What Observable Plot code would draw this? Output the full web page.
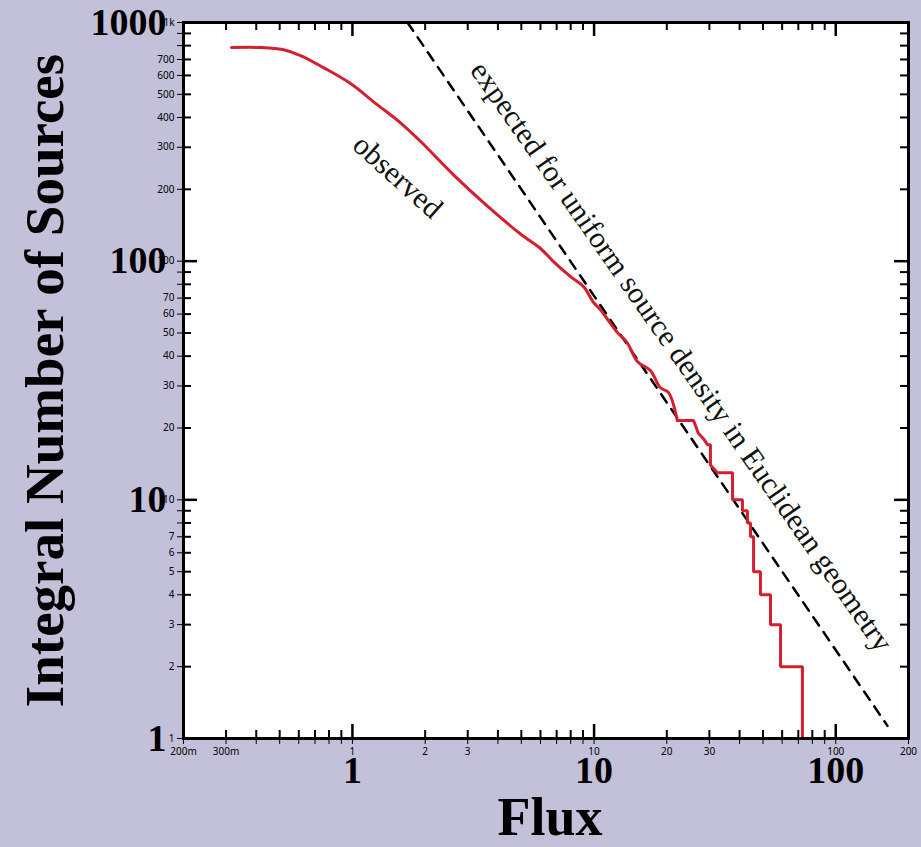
<!DOCTYPE html>
<html><head><meta charset="utf-8">
<script src="https://cdn.jsdelivr.net/npm/d3@7"></script>
<script src="https://cdn.jsdelivr.net/npm/@observablehq/plot@0.6"></script>
<style>
html,body{margin:0;padding:0;background:#c3c0da;}
#chart{position:relative;width:921px;height:847px;}
#chart svg{display:block;}
#chart svg.overlay{position:absolute;left:0;top:0;}
</style></head><body><div id="chart"></div>
<script>
// Observed integral source counts N(>S) (outline vertices)
const observedFlux = [0.316, 0.425, 0.514, 0.610, 0.759, 0.982, 1.258, 1.581, 1.912, 2.62, 3.62, 4.96, 6.00, 6.79, 7.99, 9.04, 9.95, 10.6, 12.5, 13.7, 15.1, 17.1, 18.8, 20.3, 22.1, 25.8, 27.0, 28.4, 29.5, 30.3, 30.3, 32.4, 37.4, 37.4, 41.1, 41.1, 43.1, 43.1, 44.4, 44.4, 45.7, 45.7, 48.8, 48.8, 53.7, 53.7, 59.1, 59.1, 72.8, 72.8];
const observedCount = [785, 785, 770, 727, 647, 555, 455, 380, 318, 230, 170, 130, 113, 99.6, 86.2, 78.3, 67.1, 62.7, 50.2, 45.6, 38.0, 34.8, 29.5, 28.2, 21.5, 21.5, 19, 18, 17, 17, 14, 13, 13, 10, 10, 9, 9, 8, 8, 7, 7, 5, 5, 4, 4, 3, 3, 2, 2, 1];
const smoothEnd = 25; // vertices before this index form the smooth part of the curve

// Expected for uniform density in Euclidean geometry (N ∝ S^-1.5), endpoints
const euclidFlux = [1.69, 163.7];
const euclidCount = [1000, 1.13];

// Ticks
const xMajorTicks = [1, 10, 100];
const xMinorTicks = [0.3, 0.4, 0.5, 0.6, 0.7, 0.8, 0.9, 2, 3, 4, 5, 6, 7, 8, 9, 20, 30, 40, 50, 60, 70, 80, 90];
const yMajorTicks = [10, 100];
const yMinorTicks = [2, 3, 4, 5, 6, 7, 8, 9, 20, 30, 40, 50, 60, 70, 80, 90, 200, 300, 400, 500, 600, 700, 800, 900];
const xTickLabels = [1, 10, 100];
const yTickLabels = [1, 10, 100, 1000];

// Annotations
const noteText = ["observed", "expected for uniform source density in Euclidean geometry"];
const noteFlux = [1.54, 23.0];
const noteCount = [226, 39.8];
const noteAngle = [42, 55];

const xTitle = "Flux";
const yTitle = "Integral Number of Sources";

const xDomain = [0.2, 200];
const yDomain = [1, 1000];

const observed = observedFlux.map((f, i) => ({flux: f, count: observedCount[i]}));
const euclid = euclidFlux.map((f, i) => ({flux: f, count: euclidCount[i]}));
const notes = noteText.map((t, i) => ({text: t, flux: noteFlux[i], count: noteCount[i], angle: noteAngle[i]}));

const W = 921, H = 847, mL = 183, mR = 13, mT = 22, mB = 109;
const innerW = W - mL - mR, innerH = H - mT - mB;
const major = 14, minor = 8;
const font = "'Liberation Serif', 'DejaVu Serif', serif";
const ink = "black";

const base = {
  width: W, height: H,
  marginLeft: mL, marginRight: mR, marginTop: mT, marginBottom: mB,
  x: {type: "log", domain: xDomain},
  y: {type: "log", domain: yDomain}
};

// Layer 1: plot area, data, labels
const chart = Plot.plot({
  ...base,
  style: {background: "#c3c0da", fontFamily: font, color: "black", overflow: "visible"},
  marks: [
    Plot.frame({fill: "white", stroke: null}),
    Plot.line(euclid, {x: "flux", y: "count", stroke: ink, strokeWidth: 2.5, strokeDasharray: "10,8"}),
    Plot.line(observed.slice(0, smoothEnd), {x: "flux", y: "count", stroke: "#d2202f", strokeWidth: 3, curve: "catmull-rom"}),
    Plot.line(observed.slice(smoothEnd - 1), {x: "flux", y: "count", stroke: "#d2202f", strokeWidth: 3, strokeLinejoin: "miter"}),
    Plot.axisX(xTickLabels, {anchor: "bottom", tickSize: 0, tickPadding: 18, fontSize: 38, fontWeight: "bold", tickFormat: d => String(d), label: null}),
    Plot.axisY(yTickLabels, {anchor: "left", tickSize: 0, tickPadding: 17, fontSize: 38, fontWeight: "bold", tickFormat: d => String(d), label: null}),
    Plot.text(notes, {x: "flux", y: "count", text: "text", rotate: "angle", fontSize: 30, fill: "#111", textAnchor: "middle", lineAnchor: "middle"}),
    Plot.text([yTitle], {text: d => d, frameAnchor: "left", dx: -138, rotate: -90, fontSize: 55, fontWeight: "bold", textAnchor: "middle", lineAnchor: "middle"}),
    Plot.text([xTitle], {text: d => d, frameAnchor: "bottom", dx: 4, dy: 79, fontSize: 54, fontWeight: "bold", textAnchor: "middle", lineAnchor: "middle"})
  ]
});

// Layer 2: inward ticks on all four sides and the frame, same scales
const frameLayer = Plot.plot({
  ...base,
  style: {background: "transparent", color: "black", overflow: "visible"},
  marks: [
    Plot.ruleX(xMinorTicks, {insetTop: innerH - minor, strokeWidth: 2}),
    Plot.ruleX(xMinorTicks, {insetBottom: innerH - minor, strokeWidth: 2}),
    Plot.ruleX(xMajorTicks, {insetTop: innerH - major, strokeWidth: 2.5}),
    Plot.ruleX(xMajorTicks, {insetBottom: innerH - major, strokeWidth: 2.5}),
    Plot.ruleY(yMinorTicks, {insetRight: innerW - minor, strokeWidth: 2}),
    Plot.ruleY(yMinorTicks, {insetLeft: innerW - minor, strokeWidth: 2}),
    Plot.ruleY(yMajorTicks, {insetRight: innerW - major, strokeWidth: 2.5}),
    Plot.ruleY(yMajorTicks, {insetLeft: innerW - major, strokeWidth: 2.5}),
    Plot.frame({stroke: ink, strokeWidth: 3})
  ]
});
frameLayer.classList.add("overlay");

const holder = document.getElementById("chart");
holder.appendChild(chart);
holder.appendChild(frameLayer);
</script>
</body></html>
